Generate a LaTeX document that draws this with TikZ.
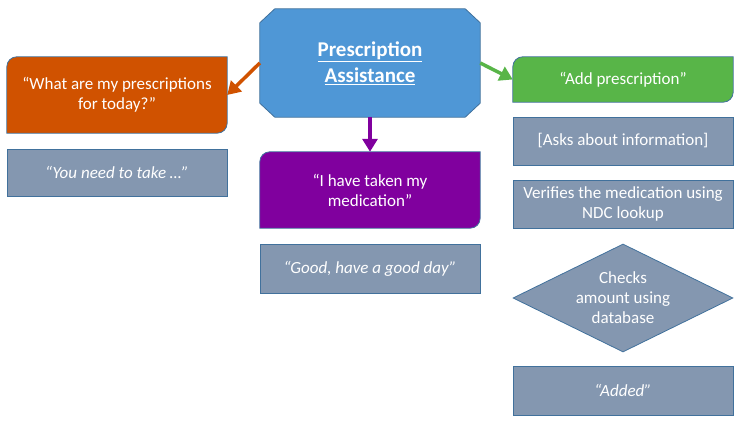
\documentclass[tikz,border=0pt]{standalone}
\usepackage{fontspec}
\setmainfont{Carlito}
\usepackage{xcolor}
\usepackage{tikz}
\usetikzlibrary{arrows.meta,shapes.geometric,backgrounds}
\definecolor{assistblue}{RGB}{79,151,214}
\definecolor{edgeblue}{RGB}{65,113,156}
\definecolor{askorange}{RGB}{208,82,0}
\definecolor{addgreen}{RGB}{88,181,72}
\definecolor{takenpurple}{RGB}{128,0,158}
\definecolor{replygrey}{RGB}{132,151,176}

\tikzset{
  boxtext/.style={text=white, align=center, inner sep=0pt, font=\fontsize{17}{20}\selectfont},
  reply/.style={boxtext, draw=edgeblue, line width=0.8pt, fill=replygrey, minimum width=220pt},
  replyit/.style={reply, font=\itshape\fontsize{17}{20}\selectfont},
  voice/.style={boxtext, minimum width=220pt, minimum height=76pt},
  link/.style={line width=3.5pt, -{Triangle[width=15pt,length=13pt]}}
}
% box with two rounded corners (top left, bottom right)
\newcommand{\voiceshape}[2]{%
  \draw[fill=#2, draw=edgeblue, line width=0.8pt] (#1.south west) -- ([yshift=-10pt]#1.north west)
    arc[start angle=180, end angle=90, radius=10pt] -- (#1.north east) -- ([yshift=10pt]#1.south east)
    arc[start angle=0, end angle=-90, radius=10pt] -- cycle;}

\begin{document}
\begin{tikzpicture}[x=1pt,y=1pt]
  \useasboundingbox (0,0) rectangle (740,422);
  % main topic
  \node[boxtext, minimum width=220pt, minimum height=108pt, font=\bfseries\fontsize{21}{26}\selectfont] (assist) at (370,359) {\underline{Prescription}\\\underline{Assistance}};
  % left column
  \node[voice] (today) at (117,327) {``What are my prescriptions\\for today?''};
  \node[replyit, minimum height=47pt] (needtake) at (117,249.5) {``You need to take \dots''};
  % middle column
  \node[voice] (taken) at (370,232) {``I have taken my\\medication''};
  \node[replyit, minimum height=49pt] (goodday) at (370,153.5) {``Good, have a good day''};
  % right column
  \node[voice, minimum height=45pt] (addpres) at (623,342.5) {``Add prescription''};
  \node[reply, minimum height=48pt] (asks) at (623,281) {[Asks about information]};
  \node[reply, minimum height=48pt] (verify) at (623,218) {Verifies the medication using\\NDC lookup};
  \node[reply, diamond, aspect=2, inner sep=-5pt, minimum width=220pt, minimum height=108pt] (checks) at (623,124) {Checks\\amount using\\database};
  \node[replyit, minimum height=49pt] (added) at (623,31.5) {``Added''};

  \begin{scope}[on background layer]
    \draw[fill=assistblue, draw=edgeblue, line width=0.8pt]
      ([xshift=15pt]assist.north west) -- ([xshift=-15pt]assist.north east) -- ([yshift=-14pt]assist.north east)
      -- ([yshift=14pt]assist.south east) -- ([xshift=-15pt]assist.south east) -- ([xshift=15pt]assist.south west)
      -- ([yshift=14pt]assist.south west) -- ([yshift=-14pt]assist.north west) -- cycle;
    \voiceshape{today}{askorange}
    \voiceshape{taken}{takenpurple}
    \voiceshape{addpres}{addgreen}
  \end{scope}

  \draw[link, askorange] (assist.west) -- (today.east);
  \draw[link, takenpurple] (assist.south) -- (taken.north);
  \draw[link, addgreen] (assist.east) -- (addpres.west);
\end{tikzpicture}
\end{document}
